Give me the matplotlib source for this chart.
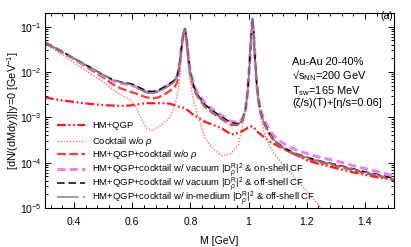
"""
Dilepton invariant mass spectrum, Au-Au 20-40%
"""

import numpy as np
import matplotlib

matplotlib.use("Agg")
import matplotlib.pyplot as plt
from matplotlib.ticker import FixedLocator, LogLocator, NullFormatter

plt.rcParams["font.family"] = ["Liberation Sans", "DejaVu Sans"]
plt.rcParams["mathtext.fontset"] = "custom"
plt.rcParams["mathtext.rm"] = "Liberation Sans"
plt.rcParams["mathtext.it"] = "Liberation Sans:italic"
plt.rcParams["mathtext.bf"] = "Liberation Sans:bold"

# invariant mass grid [GeV]
M = [0.30, 0.35, 0.40, 0.45, 0.50, 0.53, 0.56, 0.59, 0.61, 0.63,
     0.65, 0.67, 0.69, 0.71, 0.73, 0.745, 0.755, 0.763, 0.770, 0.776,
     0.781, 0.786, 0.792, 0.798, 0.805, 0.815, 0.83, 0.85, 0.875, 0.91,
     0.94, 0.965, 0.98, 0.99, 0.997, 1.003, 1.008, 1.013, 1.018, 1.023,
     1.028, 1.034, 1.042, 1.05, 1.06, 1.07, 1.085, 1.10, 1.13, 1.16,
     1.20, 1.25, 1.30, 1.35, 1.40, 1.45, 1.50]

# log10 of dN/(dM dy)
hm_qgp = [-2.56, -2.62, -2.66, -2.70, -2.73, -2.74, -2.75, -2.74, -2.72, -2.70,
          -2.69, -2.69, -2.69, -2.69, -2.70, -2.73, -2.75, -2.77, -2.78, -2.79,
          -2.80, -2.82, -2.85, -2.88, -2.92, -2.96, -3.02, -3.10, -3.16, -3.25,
          -3.38, -3.34, -3.30, -3.26, -3.23, -3.21, -3.20, -3.20, -3.22, -3.26,
          -3.30, -3.34, -3.38, -3.42, -3.47, -3.52, -3.58, -3.63, -3.72, -3.82,
          -3.95, -4.04, -4.12, -4.20, -4.27, -4.33, -4.38]

cocktail = [-1.37, -1.58, -1.80, -2.01, -2.22, -2.37, -2.50, -2.60, -2.75, -3.00,
            -3.25, -3.29, -3.22, -3.12, -3.00, -2.75, -2.52, -2.15, -1.52, -1.17,
            -1.06, -1.30, -1.75, -2.15, -2.45, -2.75, -3.05, -3.45, -3.68, -3.85,
            -3.80, -3.60, -3.15, -2.80, -2.35, -1.90, -1.32, -0.84, -1.25, -2.05,
            -2.45, -2.72, -3.00, -3.25, -3.45, -3.60, -3.78, -3.90, -4.12, -4.33,
            -4.63, -5.00, -5.35, -5.65, -5.95, -6.20, -6.45]

no_rho = [-1.36, -1.54, -1.72, -1.92, -2.12, -2.26, -2.36, -2.43, -2.47, -2.52,
          -2.56, -2.58, -2.56, -2.50, -2.41, -2.34, -2.22, -1.88, -1.45, -1.15,
          -1.06, -1.27, -1.66, -2.01, -2.21, -2.43, -2.60, -2.77, -2.90, -3.05,
          -3.17, -3.17, -3.07, -2.83, -2.44, -1.86, -1.31, -0.84, -1.21, -1.80,
          -2.27, -2.65, -2.93, -3.08, -3.23, -3.36, -3.50, -3.60, -3.73, -3.82,
          -3.91, -4.00, -4.07, -4.15, -4.23, -4.30, -4.38]

vac_onshell = [-1.35, -1.52, -1.71, -1.89, -2.08, -2.19, -2.25, -2.28, -2.32, -2.39,
               -2.44, -2.45, -2.42, -2.35, -2.27, -2.19, -2.08, -1.80, -1.42, -1.14,
               -1.05, -1.24, -1.60, -1.92, -2.12, -2.34, -2.51, -2.68, -2.82, -2.97,
               -3.09, -3.12, -3.02, -2.79, -2.41, -1.85, -1.30, -0.83, -1.20, -1.77,
               -2.23, -2.59, -2.86, -3.00, -3.14, -3.26, -3.39, -3.49, -3.62, -3.71,
               -3.80, -3.89, -3.96, -4.05, -4.13, -4.21, -4.30]

vac_offshell = [-1.35, -1.52, -1.70, -1.88, -2.06, -2.16, -2.22, -2.25, -2.29, -2.36,
                -2.42, -2.43, -2.40, -2.33, -2.25, -2.18, -2.08, -1.80, -1.42, -1.14,
                -1.05, -1.25, -1.62, -1.95, -2.15, -2.38, -2.55, -2.72, -2.85, -3.00,
                -3.12, -3.14, -3.04, -2.80, -2.42, -1.85, -1.30, -0.83, -1.20, -1.78,
                -2.25, -2.62, -2.90, -3.05, -3.20, -3.33, -3.47, -3.57, -3.70, -3.79,
                -3.88, -3.97, -4.04, -4.12, -4.20, -4.27, -4.35]

med_offshell = [-1.35, -1.52, -1.70, -1.88, -2.06, -2.16, -2.23, -2.27, -2.32, -2.40,
                -2.46, -2.47, -2.44, -2.37, -2.29, -2.21, -2.10, -1.81, -1.42, -1.14,
                -1.05, -1.25, -1.63, -1.97, -2.18, -2.41, -2.58, -2.75, -2.88, -3.03,
                -3.15, -3.16, -3.05, -2.81, -2.42, -1.85, -1.30, -0.83, -1.20, -1.78,
                -2.25, -2.63, -2.91, -3.06, -3.21, -3.34, -3.48, -3.58, -3.71, -3.80,
                -3.89, -3.98, -4.05, -4.13, -4.21, -4.28, -4.36]

labels = [
    "HM+QGP",
    r"Cocktail w/o $\rho$",
    r"HM+QGP+cocktail w/o $\rho$",
    r"HM+QGP+cocktail w/ vacuum $|\mathrm{D}_\rho^\mathrm{R}|^2$ & on-shell CF",
    r"HM+QGP+cocktail w/ vacuum $|\mathrm{D}_\rho^\mathrm{R}|^2$ & off-shell CF",
    r"HM+QGP+cocktail w/ in-medium $|\mathrm{D}_\rho^\mathrm{R}|^2$ & off-shell CF",
]

series = [hm_qgp, cocktail, no_rho, vac_onshell, vac_offshell, med_offshell]
styles = [
    dict(color="#ff1a1a", lw=1.6, dashes=(4, 1.2, 0.8, 1.2, 0.8, 1.2)),
    dict(color="#ff7070", lw=1.0, dashes=(1, 1.2)),
    dict(color="#ff3b3b", lw=1.6, dashes=(4, 1.5)),
    dict(color="#f080f0", lw=2.2, dashes=(2.6, 1.4)),
    dict(color="black", lw=1.1, dashes=(5, 2.5)),
    dict(color="#7f7f7f", lw=1.1, dashes=(14, 3)),
]

W, H = 411, 247
fig = plt.figure(figsize=(W / 100, H / 100), dpi=100)
ax = fig.add_axes([45 / W, 39 / H, 349 / W, 195 / H])

m = np.array(M)
for y, st in zip(series, styles):
    ax.plot(m, 10 ** np.array(y), **st)

ax.set_yscale("log")
ax.set_xlim(0.3, 1.5)
ax.set_ylim(1e-5, 0.2)
ax.xaxis.set_major_locator(FixedLocator([0.4, 0.6, 0.8, 1.0, 1.2, 1.4]))
ax.xaxis.set_minor_locator(FixedLocator(np.arange(0.32, 1.5, 0.04)))
ax.set_xticklabels(["0.4", "0.6", "0.8", "1", "1.2", "1.4"])
ax.yaxis.set_major_locator(LogLocator(base=10, numticks=10))
ax.yaxis.set_minor_locator(LogLocator(base=10, subs=np.arange(2, 10), numticks=10))
ax.yaxis.set_minor_formatter(NullFormatter())
ax.tick_params(which="both", direction="in", top=True, right=True,
               labelsize=7.5, width=0.7)
ax.tick_params(which="major", length=4.5)
ax.tick_params(axis="x", which="major", pad=6.5)
ax.tick_params(axis="y", which="major", pad=2.5)
ax.tick_params(which="minor", length=2.3)
for s in ax.spines.values():
    s.set_linewidth(0.8)

ax.set_xlabel("M [GeV]", fontsize=7.5, labelpad=6.5)
ax.set_ylabel(r"[dN/(dMdy)]|y=0 [GeV$^{-1}$]", fontsize=7.8, labelpad=-1)

ax.text(0.997, (208 - 16) / 195, "(a)", transform=ax.transAxes, ha="right",
        va="center", fontsize=7.5)
ax.text(0.708, 0.775,
        "Au-Au 20-40%\n√s$_\\mathrm{NN}$=200 GeV\nT$_\\mathrm{sw}$=165 MeV\n(ζ/s)(T)+[η/s=0.06]",
        transform=ax.transAxes, ha="left", va="top", fontsize=7.9,
        linespacing=1.1)


# ---- legend, drawn by hand to keep the tight row spacing ----
def px_to_axes(x_img, y_img):
    return ax.transAxes.inverted().transform((x_img, H - y_img))


LEG_FS = 6.8
line_x0, line_x1, text_x = 57, 85, 92
base_off = 3.2  # baseline sits this many px below the handle line

fig.canvas.draw()
rend = fig.canvas.get_renderer()

# plain rows
for lab, st, yp in zip(labels[:3], styles[:3], [125, 140.5, 154]):
    (xa0, ya), (xa1, _) = px_to_axes(line_x0, yp), px_to_axes(line_x1, yp)
    ax.plot([xa0, xa1], [ya, ya], transform=ax.transAxes, clip_on=False, **st)
    tx, ty = px_to_axes(text_x, yp + base_off)
    ax.text(tx, ty, lab, transform=ax.transAxes, ha="left", va="baseline",
            fontsize=LEG_FS)

# rows with |D|^2 as one multi-line text
probe = ax.text(0.5, 0.5, labels[3], transform=ax.transAxes, va="baseline",
                fontsize=LEG_FS)
pb = probe.get_window_extent(rend)
y_anchor = ax.transAxes.transform((0.5, 0.5))[1]
asc, dep = pb.y1 - y_anchor, y_anchor - pb.y0
probe.remove()

block = ax.text(0, 0, "\n".join(labels[3:]), transform=ax.transAxes,
                ha="left", va="top", fontsize=LEG_FS)


def row_pitch(ls):
    block.set_linespacing(ls)
    return (block.get_window_extent(rend).height - asc - dep) / 2


target = 14.0
p1, p2 = row_pitch(1.0), row_pitch(1.4)
ls = 1.0 + (target - p1) * 0.4 / (p2 - p1)
pitch = row_pitch(ls)

first_line = 169.0
top_img = first_line + base_off - asc
block.set_position(tuple(px_to_axes(text_x, top_img)))
for k, st in enumerate(styles[3:]):
    yp = first_line + k * pitch
    (xa0, ya), (xa1, _) = px_to_axes(line_x0, yp), px_to_axes(line_x1, yp)
    ax.plot([xa0, xa1], [ya, ya], transform=ax.transAxes, clip_on=False, **st)

fig.savefig("out.png", dpi=100)
